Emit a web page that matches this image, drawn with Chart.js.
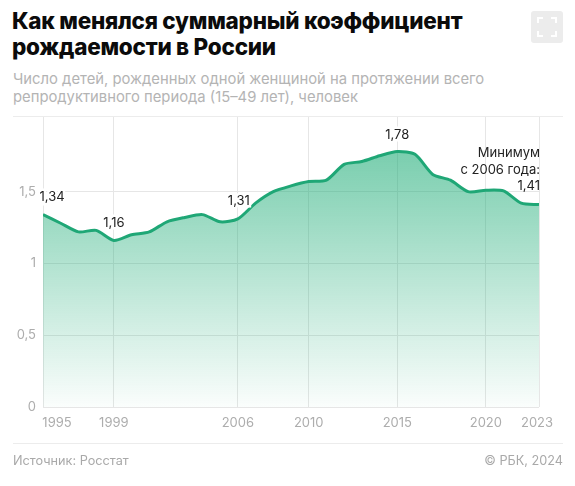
<!DOCTYPE html>
<html lang="ru">
<head>
<meta charset="utf-8">
<script src="https://cdn.jsdelivr.net/npm/chart.js@4"></script>
<style>
  html, body { margin: 0; background: #fff; }
  body { position: relative; width: 575px; height: 486px; overflow: hidden; font-family: Inter, sans-serif; }
  canvas { position: absolute; left: 0; top: 0; }
  .title { position: absolute; left: 12px; top: 8px; font-size: 22.5px; line-height: 26px; font-weight: 800; color: #0b0b0b; letter-spacing: -0.25px; white-space: nowrap; }
  .sub { position: absolute; left: 13px; top: 70px; font-size: 14.8px; line-height: 18px; color: #b4b4b4; white-space: nowrap; }
  .rule { position: absolute; left: 13px; width: 550px; height: 1px; background: #ececec; }
  .foot { position: absolute; top: 453px; font-size: 12.7px; line-height: 16px; color: #a9a9a9; }
  .icon { position: absolute; left: 531px; top: 11px; width: 32px; height: 32px; border-radius: 3px; background: #ececec; }
  .icon svg { position: absolute; left: 6px; top: 6px; }
</style>
</head>
<body>
<div class="title">Как менялся суммарный коэффициент<br>рождаемости в России</div>
<div class="sub">Число детей, рожденных одной женщиной на протяжении всего<br>репродуктивного периода (15–49 лет), человек</div>
<div class="icon"><svg width="20" height="20" fill="none" stroke="#fff" stroke-width="2"><path d="M1 6V1H6M14 1H19V6M19 14V19H14M6 19H1V14"/></svg></div>
<canvas id="chart" width="575" height="486"></canvas>
<div class="rule" style="top:116px"></div>
<div class="rule" style="top:443px"></div>
<div class="foot" style="left:13px">Источник: Росстат</div>
<div class="foot" style="right:12px">© РБК, 2024</div>
<script>
const years = [1995, 1996, 1997, 1998, 1999, 2000, 2001, 2002, 2003, 2004, 2005, 2006, 2007, 2008, 2009,
  2010, 2011, 2012, 2013, 2014, 2015, 2016, 2017, 2018, 2019, 2020, 2021, 2022, 2023];
const values = [1.34, 1.28, 1.22, 1.23, 1.16, 1.20, 1.22, 1.29, 1.32, 1.34, 1.29, 1.31, 1.42, 1.50, 1.54,
  1.57, 1.58, 1.69, 1.71, 1.75, 1.78, 1.76, 1.62, 1.58, 1.50, 1.51, 1.505, 1.42, 1.41];
const yearTicks = [1995, 1999, 2006, 2010, 2015, 2020, 2023];
const valueTicks = [0, 0.5, 1, 1.5];
const labelledYears = [1995, 1999, 2006, 2015];
const labelledText = ["1,34", "1,16", "1,31", "1,78"];
const noteLines = ["Минимум", "с 2006 года:", "1,41"];

const comma = v => String(v).replace(".", ",");

const labels = {
  id: "labels",
  afterDraw(chart) {
    const { ctx, scales: { x, y } } = chart;
    ctx.save();
    ctx.font = "13px Inter";
    ctx.textBaseline = "middle";

    // подписи оси лет: крайние сдвинуты внутрь
    ctx.fillStyle = "#adadad";
    x.ticks.forEach(t => {
      let px = x.getPixelForValue(t.value);
      if (t.value === 1995) px += 14;
      if (t.value === 2023) px -= 2;
      ctx.textAlign = "center";
      ctx.fillText(String(t.value), px, 423);
    });

    // значения над линией
    ctx.fillStyle = "#222";
    ctx.strokeStyle = "#fff";
    ctx.lineWidth = 5;
    ctx.textAlign = "center";
    const shifts = [[9, -18], [0, -17], [1, -18], [0, -16]];
    labelledYears.forEach((yr, i) => {
      const px = x.getPixelForValue(yr) + shifts[i][0];
      const py = y.getPixelForValue(values[years.indexOf(yr)]) + shifts[i][1];
      ctx.strokeText(labelledText[i], px, py);
      ctx.fillText(labelledText[i], px, py);
    });

    ctx.textAlign = "right";
    const endX = x.getPixelForValue(2023) + 1;
    const endY = y.getPixelForValue(values[values.length - 1]);
    noteLines.forEach((line, i) => {
      ctx.fillText(line, endX, endY - 51 + i * 16.5);
    });
    ctx.restore();
  },
};

new Chart(document.getElementById("chart"), {
  type: "line",
  data: {
    labels: years,
    datasets: [{
      data: years.map((yr, i) => ({ x: yr, y: values[i] })),
      borderColor: "#1fa776",
      borderWidth: 3,
      tension: 0.25,
      pointRadius: 0,
      fill: "origin",
      backgroundColor(context) {
        const area = context.chart.chartArea;
        if (!area) return "rgba(24,170,115,0.5)";
        const g = context.chart.ctx.createLinearGradient(0, 150, 0, area.bottom);
        g.addColorStop(0, "rgba(24,170,115,0.58)");
        g.addColorStop(1, "rgba(24,170,115,0.02)");
        return g;
      },
    }],
  },
  options: {
    responsive: false,
    animation: false,
    layout: { padding: { top: 117, right: 36 } },
    plugins: { legend: { display: false }, tooltip: { enabled: false } },
    scales: {
      x: {
        type: "linear",
        min: 1995,
        max: 2023,
        afterBuildTicks: scale => { scale.ticks = yearTicks.map(value => ({ value })); },
        afterFit: scale => { scale.height = 79; },
        ticks: { display: false },
        grid: { color: "#e6e6e6", drawTicks: false },
        border: { display: false },
      },
      y: {
        min: 0,
        max: 2.02,
        afterBuildTicks: scale => { scale.ticks = valueTicks.map(value => ({ value })); },
        afterFit: scale => { scale.width = 43; },
        ticks: {
          callback: comma,
          color: "#adadad",
          padding: 7,
          font: { family: "Inter", size: 13 },
        },
        grid: { color: "#e6e6e6", drawTicks: false },
        border: { display: false },
      },
    },
  },
  plugins: [labels],
});
</script>
</body>
</html>
